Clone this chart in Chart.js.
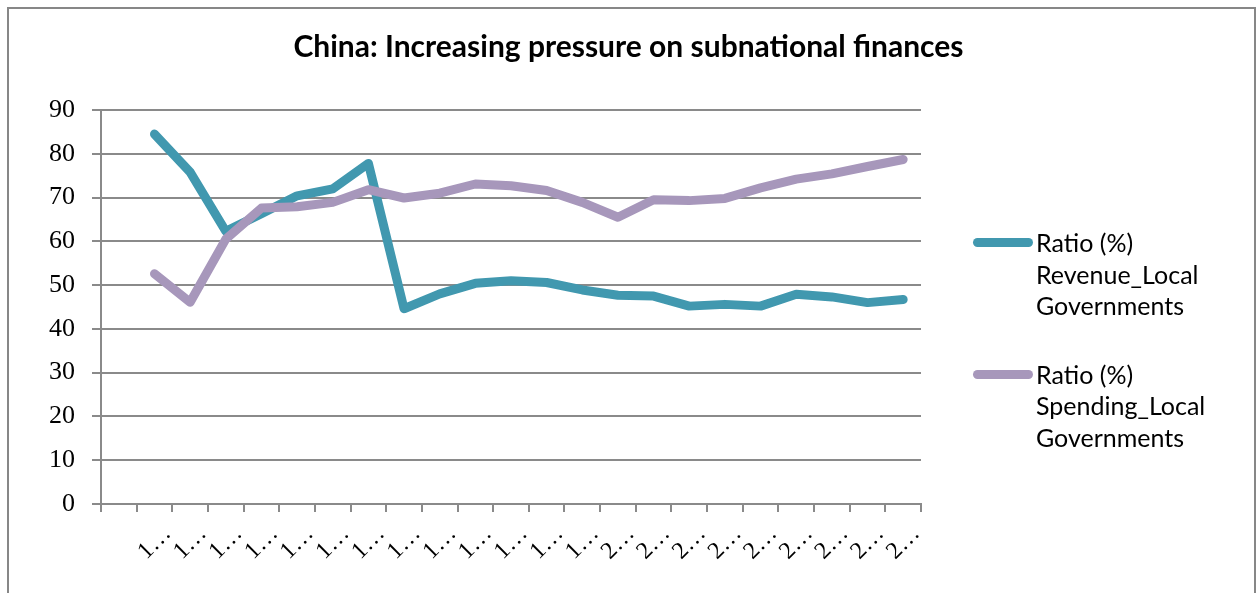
<!DOCTYPE html>
<html>
<head>
<meta charset="utf-8">
<title>China: Increasing pressure on subnational finances</title>
<script src="https://cdn.jsdelivr.net/npm/chart.js@4/dist/chart.umd.min.js"></script>
<style>
    html, body { margin: 0; padding: 0; background: #fff; }
    #wrap { position: relative; width: 1257px; height: 593px; overflow: hidden; }
    #frame {
        position: absolute; left: 7px; top: 7px; width: 1245px; height: 620px;
        border: 2px solid #878787; pointer-events: none;
    }
    #chart { position: absolute; left: 0; top: 0; }
    #legend { position: absolute; left: 973px; top: 227px; font-family: Lato, sans-serif; font-size: 25px; color: #000; }
    .item { display: flex; align-items: flex-start; line-height: 31.5px; margin-bottom: 37px; }
    .swatch { width: 60px; height: 9px; border-radius: 5px; margin-top: 11px; flex: none; }
    .text { width: 210px; margin-left: 3px; }
</style>
</head>
<body>
<div id="wrap">
    <canvas id="chart" width="1257" height="593"></canvas>
    <div id="frame"></div>
    <div id="legend"></div>
</div>
<script>
// Chart data
const categories = ['', '1…', '1…', '1…', '1…', '1…', '1…', '1…', '1…', '1…', '1…', '1…', '1…', '1…',
    '2…', '2…', '2…', '2…', '2…', '2…', '2…', '2…', '2…'];

const revenueLocal = [null, 84.5, 75.8, 62.3, 66.3, 70.4, 72.0, 77.8, 44.6, 48.0, 50.4, 51.0,
    50.6, 48.9, 47.7, 47.5, 45.2, 45.6, 45.2, 47.9, 47.3, 46.0, 46.7];

const spendingLocal = [null, 52.6, 46.1, 60.5, 67.6, 67.9, 68.9, 71.8, 69.9, 71.0, 73.1, 72.7,
    71.6, 68.9, 65.5, 69.5, 69.3, 69.8, 72.2, 74.2, 75.4, 77.1, 78.7];

const yTicks = [0, 10, 20, 30, 40, 50, 60, 70, 80, 90];

const seriesLabels = ['Ratio (%) Revenue_Local Governments', 'Ratio (%) Spending_Local Governments'];

const colors = {
    revenue: '#4198AF',
    spending: '#A797BB',
    grid: '#8A8A8A'
};

const ctx = document.getElementById('chart').getContext('2d');

const chart = new Chart(ctx, {
    type: 'line',
    data: {
        labels: categories,
        datasets: [{
            label: seriesLabels[0],
            data: revenueLocal,
            borderColor: colors.revenue,
            backgroundColor: colors.revenue,
            borderWidth: 9,
            borderJoinStyle: 'round',
            borderCapStyle: 'round',
            tension: 0,
            pointRadius: 0,
            order: 1
        }, {
            label: seriesLabels[1],
            data: spendingLocal,
            borderColor: colors.spending,
            backgroundColor: colors.spending,
            borderWidth: 9,
            borderJoinStyle: 'round',
            borderCapStyle: 'round',
            tension: 0,
            pointRadius: 0,
            order: 0
        }]
    },
    options: {
        responsive: false,
        animation: false,
        layout: { padding: 0 },
        plugins: {
            legend: { display: false },
            tooltip: { enabled: false },
            title: {
                display: true,
                text: 'China: Increasing pressure on subnational finances',
                color: '#000',
                font: { family: 'Lato', size: 30, weight: 'bold' },
                padding: { top: 29, bottom: 45 }
            }
        },
        scales: {
            x: {
                offset: true,
                grid: {
                    offset: true,
                    drawOnChartArea: false,
                    drawTicks: true,
                    tickLength: 8,
                    color: colors.grid,
                    lineWidth: 2
                },
                border: { color: colors.grid, width: 2 },
                ticks: {
                    autoSkip: false,
                    minRotation: 45,
                    maxRotation: 45,
                    padding: 8,
                    labelOffset: 13,
                    color: '#000',
                    font: { family: 'Liberation Serif', size: 24 }
                },
                afterFit: s => { s.height = 89; }
            },
            y: {
                min: 0,
                max: 90,
                afterBuildTicks: s => { s.ticks = yTicks.map(v => ({ value: v })); },
                grid: {
                    color: colors.grid,
                    lineWidth: 2,
                    tickLength: 9
                },
                border: { color: colors.grid, width: 2 },
                ticks: {
                    padding: 17,
                    color: '#000',
                    font: { family: 'Liberation Serif', size: 26 }
                },
                afterFit: s => { s.width = 101; }
            },
            // empty right-hand axis that keeps the space for the legend
            side: {
                type: 'linear',
                position: 'right',
                grid: { display: false },
                border: { display: false },
                ticks: { display: false },
                afterFit: s => { s.width = 336; }
            }
        }
    }
});

// Legend with wrapped labels, built from the datasets
const legendEl = document.getElementById('legend');
chart.data.datasets.forEach(ds => {
    const item = document.createElement('div');
    item.className = 'item';
    const sw = document.createElement('span');
    sw.className = 'swatch';
    sw.style.background = ds.borderColor;
    const tx = document.createElement('div');
    tx.className = 'text';
    tx.textContent = ds.label;
    item.appendChild(sw);
    item.appendChild(tx);
    legendEl.appendChild(item);
});
</script>
</body>
</html>
